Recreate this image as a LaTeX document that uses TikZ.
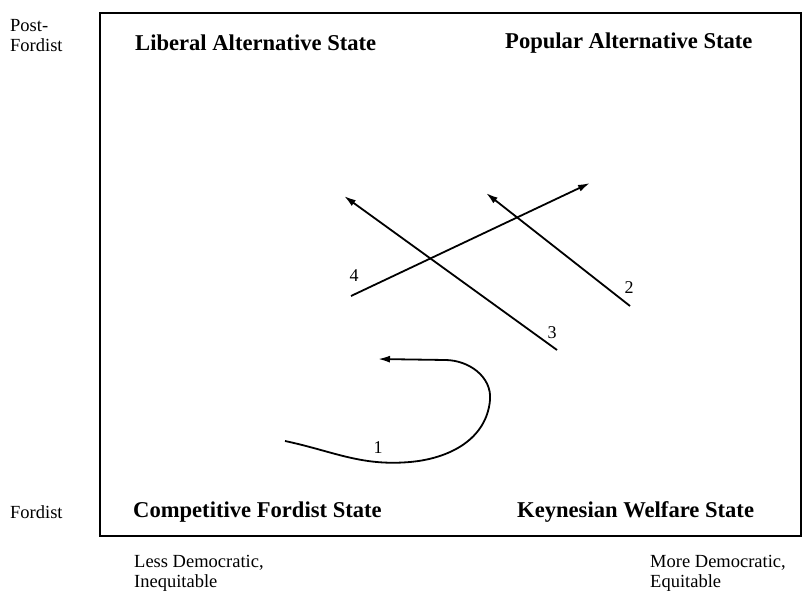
\documentclass[tikz,border=0pt]{standalone}
\usepackage{fontspec}
\setmainfont{Liberation Serif}
\usetikzlibrary{arrows.meta}

\tikzset{
  axislabel/.style={inner sep=0pt, anchor=west, align=left, font=\fontsize{18.5}{20}\selectfont},
  statelabel/.style={inner sep=0pt, anchor=west, font=\fontsize{22.6}{23}\selectfont\bfseries},
  pathlabel/.style={inner sep=0pt, font=\fontsize{18}{18}\selectfont},
  shiftarrow/.style={line width=1.8pt, -{Latex[length=12pt,width=7pt]}}
}

\begin{document}
\begin{tikzpicture}[x=1pt, y=-1pt]
    \useasboundingbox (0,0) rectangle (803,593);
    % Draw frame
    \draw[line width=1.8pt] (100,13) rectangle (801,536);

    % Axis labels
    \node[axislabel] (postfordist) at (10,36) {Post-\\Fordist};
    \node[axislabel] (fordist) at (10,512) {Fordist};
    \node[axislabel] (lessdem) at (134,573) {Less Democratic,\\Inequitable};
    \node[axislabel] (moredem) at (650,573) {More Democratic,\\Equitable};

    % Corner states
    \node[statelabel] (liberal) at (135,43) {Liberal Alternative State};
    \node[statelabel] (popular) at (505,43) {Popular Alternative State};
    \node[statelabel] (competitive) at (133,512) {Competitive Fordist State};
    \node[statelabel] (keynesian) at (517,512) {Keynesian Welfare State};

    % Path ends
    \coordinate (s1) at (285,441);
    \coordinate (e1) at (378,359);
    \coordinate (s2) at (630,306);
    \coordinate (e2) at (486,193);
    \coordinate (s3) at (557,350);
    \coordinate (e3) at (344,196);
    \coordinate (s4) at (351,296);
    \coordinate (e4) at (590,183);

    % Draw paths
    \draw[shiftarrow] (s1) to[out=-12,in=185] (410,462) to[out=5,in=-95] (490,400)
        to[out=85,in=0] (445,360) -- (e1);
    \draw[shiftarrow] (s2) -- (e2);
    \draw[shiftarrow] (s3) -- (e3);
    \draw[shiftarrow] (s4) -- (e4);

    % Path numbers
    \node[pathlabel] (n1) at (378,448) {1};
    \node[pathlabel] (n2) at (629,288) {2};
    \node[pathlabel] (n3) at (552,333) {3};
    \node[pathlabel] (n4) at (354,276) {4};
\end{tikzpicture}
\end{document}
